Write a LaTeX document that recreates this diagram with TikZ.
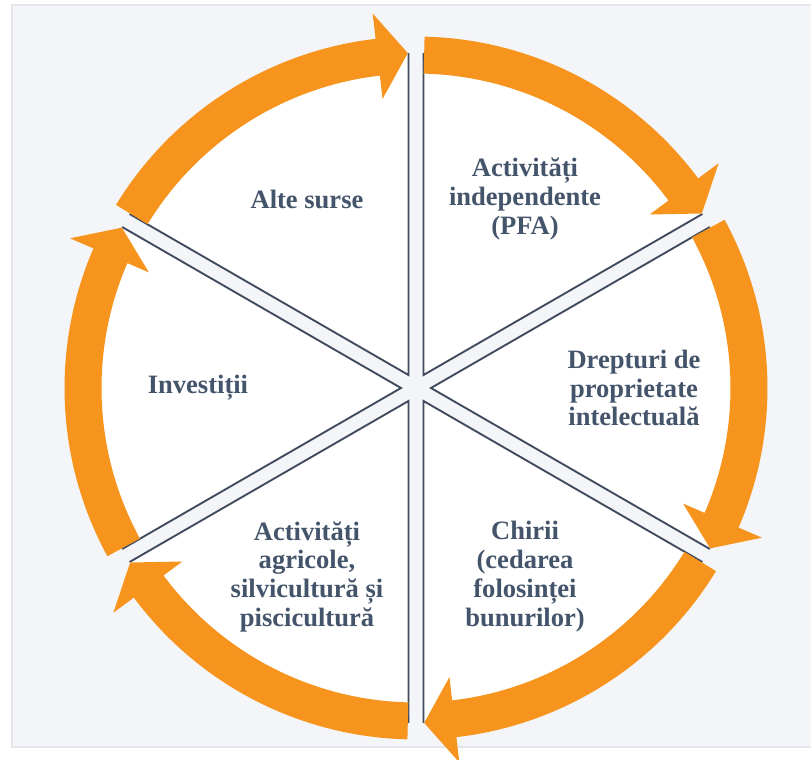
\documentclass[tikz,border=0pt]{standalone}
\usepackage{fontspec}
\setmainfont{Liberation Serif}
\usepackage{tikz,xcolor}
\usetikzlibrary{positioning}

\definecolor{ringorange}{HTML}{F7941E}
\definecolor{slate}{HTML}{44546A}
\definecolor{edgeslate}{HTML}{3F4B5D}
\definecolor{panelgray}{HTML}{F4F5F9}
\definecolor{panelborder}{HTML}{E3E5EB}

\begin{document}
\begin{tikzpicture}[
        x=0.75pt, y=0.75pt,
        panel/.style={fill=panelgray, draw=panelborder, line width=1.5pt},
        edgeline/.style={draw=edgeslate, line width=1.4pt, line join=miter},
        slicetext/.style={align=center, text=slate,
            font=\fontsize{19.9}{21.6}\selectfont\bfseries},
        wedge/.pic={
            \fill[white] (15,0) -- ++(-30:322) arc[start angle=-30, end angle=30, radius=322] -- cycle;
            \draw[edgeline] (15,0) ++(30:322) -- (15,0) -- ++(-30:322);
        },
        cyclearrow/.pic={
            \fill[ringorange] (28.6:351.5) arc[start angle=28.6, end angle=-23.4, radius=351.5]
                -- (-23.4:377) -- (-28.6:335) -- (-23.4:291) -- (-23.4:314.5)
                arc[start angle=-23.4, end angle=28.6, radius=314.5] -- cycle;
        }
    ]
        \useasboundingbox (-416,-372) rectangle (395,388);

        % Background panel
        \draw[panel] (-404,-359) rectangle (420,383);

        % Slices (split apart, the gaps show the panel)
        \pic[rotate=60] {wedge};
        \pic[rotate=0] {wedge};
        \pic[rotate=-60] {wedge};
        \pic[rotate=-120] {wedge};
        \pic[rotate=180] {wedge};
        \pic[rotate=120] {wedge};

        % Arrows round the ring, clockwise
        \pic[rotate=60] {cyclearrow};
        \pic[rotate=0] {cyclearrow};
        \pic[rotate=-60] {cyclearrow};
        \pic[rotate=-120] {cyclearrow};
        \pic[rotate=180] {cyclearrow};
        \pic[rotate=120] {cyclearrow};

        % Slice texts
        \node[slicetext] (ALTE) at (120:218) {Alte surse};
        \node[slicetext] (PFA) at (60:218) {Activități\\independente\\(PFA)};
        \node[slicetext] (DREPTURI) at (0:218) {Drepturi de\\proprietate\\intelectuală};
        \node[slicetext] (CHIRII) at (-60:218) {Chirii\\(cedarea\\folosinței\\bunurilor)};
        \node[slicetext] (AGRICOLE) at (-120:218) {Activități\\agricole,\\silvicultură și\\piscicultură};
        \node[slicetext] (INVEST) at (180:218) {Investiții};

    \end{tikzpicture}
\end{document}
